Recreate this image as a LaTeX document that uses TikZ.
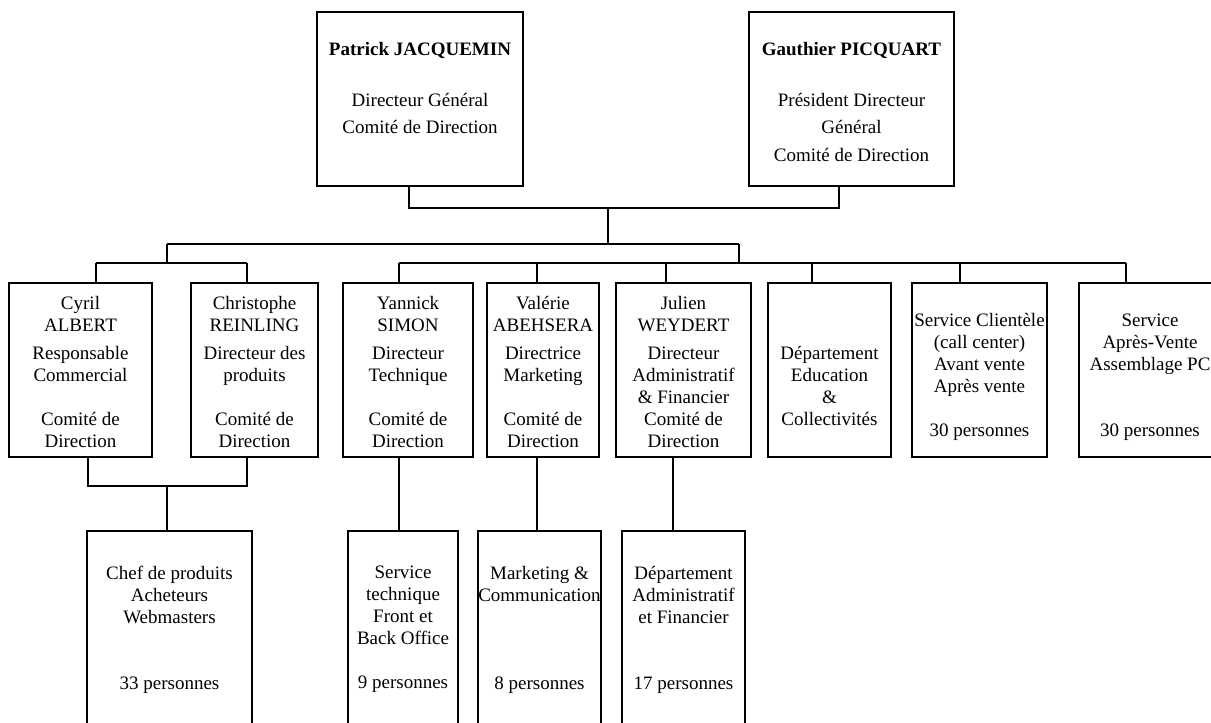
\documentclass[tikz,border=0pt]{standalone}
\usepackage{fontspec}
\setmainfont{Liberation Serif}
\usetikzlibrary{positioning}

\begin{document}
\begin{tikzpicture}[x=0.5pt, y=-0.5pt, line width=0.6pt,
	box/.style = {draw, inner sep=0pt, minimum height=87pt},
	low/.style = {box, minimum height=104.5pt},
	txt/.style = {align=center, inner sep=0pt, font=\fontsize{9.5}{11}\selectfont},
	toptxt/.style = {align=center, inner sep=0pt, font=\fontsize{9.5}{13.75}\selectfont}]
	\useasboundingbox (0,0) rectangle (1211,723);
	\clip (0,0) rectangle (1211,723);

	% direction
	\node[box, minimum width=103pt] (patrick) at (420,99) {};
	\node[box, minimum width=102.5pt] (gauthier) at (851.5,99) {};

	% middle row
	\node[box, minimum width=71.5pt] (cyril) at (80.5,370) {};
	\node[box, minimum width=63.5pt] (christophe) at (254.5,370) {};
	\node[box, minimum width=65pt] (yannick) at (408,370) {};
	\node[box, minimum width=56pt] (valerie) at (543,370) {};
	\node[box, minimum width=67.5pt] (julien) at (683.5,370) {};
	\node[box, minimum width=61.5pt] (education) at (829.5,370) {};
	\node[box, minimum width=67.5pt] (clientele) at (979.5,370) {};
	\node[box, minimum width=71pt] (apres) at (1150,370) {};

	% bottom row
	\node[low, minimum width=82.5pt] (chef) at (169.5,635.5) {};
	\node[low, minimum width=55pt] (technique) at (403,635.5) {};
	\node[low, minimum width=61.5pt] (marketing) at (539.5,635.5) {};
	\node[low, minimum width=61.5pt] (admin) at (683.5,635.5) {};

	% texts
	\node[toptxt, below=15pt of patrick.north] (t-patrick) {\textbf{Patrick JACQUEMIN}\\[11.75pt]Directeur Général\\Comité de Direction};
	\node[toptxt, below=15pt of gauthier.north] (t-gauthier) {\textbf{Gauthier PICQUART}\\[11.75pt]Président Directeur\\Général\\Comité de Direction};

	\node[txt, below=6.5pt of cyril.north] (t-cyril) {Cyril\\ALBERT\\[3pt]Responsable\\Commercial\\[11pt]Comité de\\Direction};
	\node[txt, below=6.5pt of christophe.north] (t-christophe) {Christophe\\REINLING\\[3pt]Directeur des\\produits\\[11pt]Comité de\\Direction};
	\node[txt, below=6.5pt of yannick.north] (t-yannick) {Yannick\\SIMON\\[3pt]Directeur\\Technique\\[11pt]Comité de\\Direction};
	\node[txt, below=6.5pt of valerie.north] (t-valerie) {Valérie\\ABEHSERA\\[3pt]Directrice\\Marketing\\[11pt]Comité de\\Direction};
	\node[txt, below=6.5pt of julien.north] (t-julien) {Julien\\WEYDERT\\[3pt]Directeur\\Administratif\\\& Financier\\Comité de\\Direction};
	\node[txt, below=31.5pt of education.north] (t-education) {Département\\Education\\\&\\Collectivités};
	\node[txt, below=15pt of clientele.north] (t-clientele) {Service Clientèle\\(call center)\\Avant vente\\Après vente\\[11pt]30 personnes};
	\node[txt, below=15.5pt of apres.north] (t-apres) {Service\\Après-Vente\\Assemblage PC\\[22pt]30 personnes};

	\node[txt, below=17.5pt of chef.north] (t-chef) {Chef de produits\\Acheteurs\\Webmasters\\[22pt]33 personnes};
	\node[txt, below=17.5pt of technique.north] (t-technique) {Service\\technique\\Front et\\Back Office\\[11pt]9 personnes};
	\node[txt, below=17.5pt of marketing.north] (t-marketing) {Marketing \&\\Communication\\[33pt]8 personnes};
	\node[txt, below=17.5pt of admin.north] (t-admin) {Département\\Administratif\\et Financier\\[22pt]17 personnes};

	% junctions
	\coordinate (jp) at (409,208);
	\coordinate (jg) at (839,208);
	\coordinate (jm) at (608,208);
	\coordinate (jb) at (608,244);
	\coordinate (jl) at (167,244);
	\coordinate (jr) at (739,244);
	\coordinate (gl) at (167,263);
	\coordinate (gr) at (739,263);
	\coordinate (cb) at (88,486);
	\coordinate (xb) at (247,486);
	\coordinate (gb) at (167,486);

	\draw (patrick.south -| jp) -- (jp) -- (jg) -- (gauthier.south -| jg);
	\draw (jm) -- (jb);
	\draw (jl) -- (jr);
	\draw (jl) -- (gl);
	\draw (jr) -- (gr);

	\foreach \b/\x in {cyril/96, christophe/247, yannick/399, valerie/537, julien/666, education/812, clientele/960, apres/1126}
	{
		\coordinate (s-\b) at (\x,263);
		\draw (s-\b) -- (s-\b |- \b.north);
	}
	\draw (s-cyril) -- (s-christophe);
	\draw (s-yannick) -- (s-apres);

	\draw (cyril.south -| cb) -- (cb) -- (xb) -- (christophe.south -| xb);
	\draw (gb) -- (gb |- chef.north);
	\foreach \a/\b/\x in {yannick/technique/399, valerie/marketing/537, julien/admin/673}
	{
		\coordinate (d-\a) at (\x,500);
		\draw (d-\a |- \a.south) -- (d-\a |- \b.north);
	}
\end{tikzpicture}
\end{document}
